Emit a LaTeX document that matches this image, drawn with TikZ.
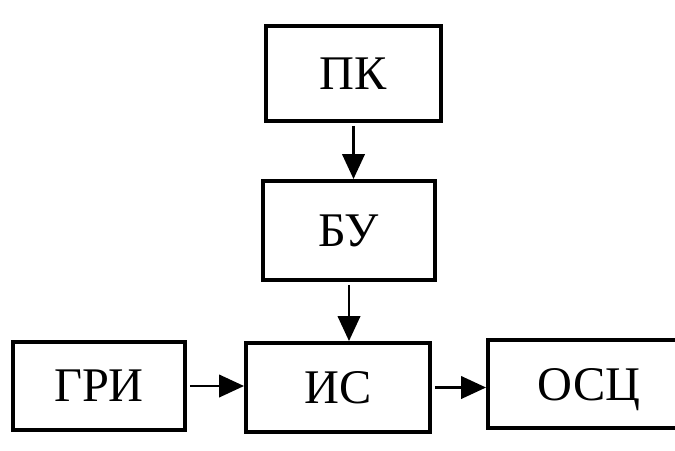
\documentclass[tikz,border=0pt]{standalone}
\usepackage{fontspec}
\setmainfont{Liberation Serif}
\usetikzlibrary{arrows.meta}
\tikzset{
	blok/.style={draw, line width=0.08cm, inner sep=0pt, text depth=0pt, font=\fontsize{27.5}{30}\selectfont},
	strelka/.style={-{Triangle[length=0.5cm,width=0.45cm]}, line width=0.05cm, shorten <=0.06cm}
}
\begin{document}
\begin{tikzpicture}[x=0.02cm, y=-0.02cm]
		%%%%% START %%%%%
		\useasboundingbox (0, 0) rectangle (675, 450);
		\clip (0, 0) rectangle (675, 450);
		
		\node[blok, minimum width=3.5cm, minimum height=1.9cm] (pk) at (353.5, 73.5) {ПК};
		\node[blok, minimum width=3.44cm, minimum height=1.98cm] (bu) at (349, 230.5) {БУ};
		
		\node[blok, minimum width=3.44cm, minimum height=1.76cm] (gri) at (99, 386) {ГРИ};
		\node[blok, minimum width=3.68cm, minimum height=1.78cm] (is) at (338, 387.5) {ИС};
		\node[blok, minimum width=4.04cm, minimum height=1.76cm] (osc) at (589, 384) {ОСЦ};
		
		\draw[strelka] (pk.south) -- (pk.south |- bu.north);
		\draw[strelka] (bu.south) -- (bu.south |- is.north);
		\draw[strelka] (gri.east) -- (gri.east -| is.west);
		\draw[strelka] (is.east) -- (is.east -| osc.west);
		
		%%%%% END %%%%%
\end{tikzpicture}
\end{document}
